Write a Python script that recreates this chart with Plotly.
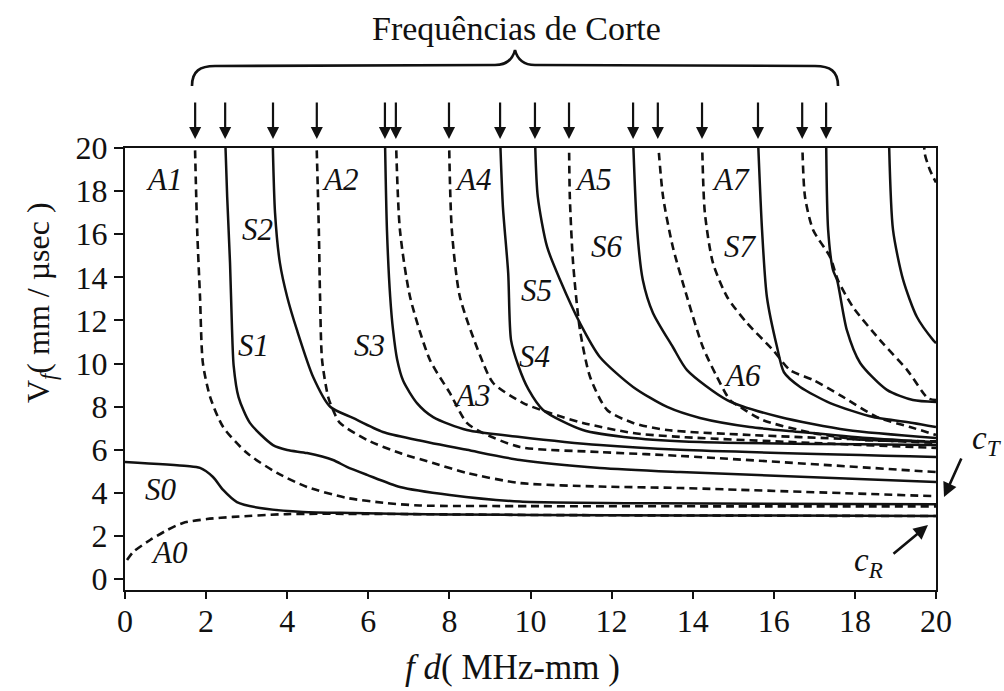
import plotly.graph_objects as go

# ---- Lamb-wave phase-velocity branches: fd (MHz-mm) vs Vf (mm/µs) ----
S0_fd = [0, 1.53, 1.85, 2.17, 2.42, 2.76, 3.33, 4.39, 5.62, 8, 12, 16, 20]
S0_v = [5.44, 5.25, 5.16, 4.74, 4.14, 3.58, 3.30, 3.12, 3.07, 3.0, 2.97, 2.95, 2.93]

A0_fd = [0.05, 0.20, 0.62, 1.04, 1.43, 2.02, 2.66, 4.0, 6, 10, 15, 20]
A0_v = [0.89, 1.26, 1.82, 2.28, 2.61, 2.79, 2.89, 3.02, 3.03, 2.98, 2.95, 2.93]

A1_fd = [1.72, 1.78, 1.85, 1.92, 2.10, 2.42, 3.01, 3.75, 4.49, 5.47, 6.46, 7.27, 10, 15, 20]
A1_v = [20.5, 16.2, 13.09, 10.03, 8.45, 7.06, 5.85, 4.93, 4.28, 3.77, 3.53, 3.42, 3.39, 3.38, 3.38]

S1_fd = [2.47, 2.52, 2.59, 2.64, 2.68, 2.80, 3.08, 3.65, 4.0, 4.49, 5.13, 5.47, 5.97, 6.78, 8.01, 9.74, 13, 20]
S1_v = [20.5, 17.73, 14.67, 11.56, 9.9, 8.45, 7.25, 6.22, 5.99, 5.85, 5.53, 5.21, 4.84, 4.28, 3.91, 3.60, 3.52, 3.48]

A2_fd = [4.72, 4.78, 4.81, 4.86, 5.01, 5.13, 5.30, 5.97, 6.78, 7.60, 8.43, 9.74, 11.71, 13.69, 20]
A2_v = [20.5, 16.2, 13.09, 10.17, 8.45, 7.85, 7.25, 6.46, 5.85, 5.39, 4.93, 4.46, 4.30, 4.23, 3.85]

S2_fd = [3.64, 3.70, 3.82, 4.0, 4.24, 4.64, 5.06, 5.62, 6.36, 7.2, 8.43, 9.74, 11.71, 13.69, 20]
S2_v = [20.5, 16.99, 14.67, 13.09, 11.56, 9.38, 8.0, 7.48, 6.83, 6.46, 6.0, 5.53, 5.16, 4.97, 4.51]

S3_fd = [6.41, 6.46, 6.54, 6.61, 6.71, 6.86, 7.20, 7.60, 8.43, 9.74, 11.71, 13.69, 20]
S3_v = [20.5, 16.2, 13.09, 11.56, 10.2, 9.2, 8.17, 7.52, 6.92, 6.60, 6.22, 6.0, 5.67]

A3_fd = [6.68, 6.78, 7.03, 7.52, 8.01, 8.43, 8.83, 9.74, 11.71, 13.69, 20]
A3_v = [20.5, 16.2, 13.09, 10.17, 8.64, 7.25, 6.78, 6.13, 5.90, 5.72, 4.97]

A4_fd = [7.99, 8.06, 8.26, 8.83, 9.08, 9.82, 10.48, 11.29, 12.53, 13.69, 20]
A4_v = [20.5, 16.2, 13.09, 10.03, 9.10, 8.17, 7.71, 7.25, 6.78, 6.60, 6.09]

S4_fd = [9.25, 9.32, 9.45, 9.52, 9.70, 9.95, 10.31, 11.29, 12.53, 14.18, 20]
S4_v = [20.5, 17.26, 14.20, 11.09, 9.9, 8.8, 7.85, 6.92, 6.55, 6.36, 6.22]

S5_fd = [10.11, 10.18, 10.41, 10.73, 11.22, 11.71, 12.53, 13.37, 14.18, 15.41, 16.65, 18.30, 20]
S5_v = [20.5, 17.73, 15.41, 13.88, 11.88, 10.31, 8.92, 7.99, 7.48, 7.06, 6.83, 6.55, 6.36]

A5_fd = [10.95, 10.97, 11.05, 11.22, 11.47, 11.89, 12.53, 13.37, 15.41, 17.88, 20]
A5_v = [20.4, 17.73, 14.67, 11.56, 9.38, 7.85, 7.25, 6.92, 6.69, 6.50, 6.32]

S6_fd = [12.53, 12.63, 12.77, 13.02, 13.51, 13.86, 14.85, 16.15, 17.81, 20]
S6_v = [20.4, 16.2, 13.88, 12.35, 10.77, 9.70, 8.31, 7.52, 6.92, 6.55]

A6_fd = [13.14, 13.27, 13.51, 13.86, 14.25, 14.60, 14.92, 15.17, 15.73, 16.97, 18.20, 20]
A6_v = [20.4, 17.73, 15.41, 13.09, 10.77, 9.38, 8.31, 7.99, 7.38, 6.78, 6.46, 6.40]

A7_fd = [14.23, 14.30, 14.50, 14.85, 15.34, 15.98, 16.40, 16.97, 17.63, 18.55, 19.36, 20]
A7_v = [20.4, 16.99, 14.67, 13.09, 11.88, 10.63, 9.70, 9.24, 8.54, 7.52, 7.06, 6.69]

S7_fd = [15.61, 15.71, 15.83, 16.08, 16.25, 16.65, 17.39, 18.45, 19.43, 20]
S7_v = [20.4, 16.2, 13.09, 10.77, 9.6, 8.92, 8.17, 7.52, 7.25, 7.06]

A8_fd = [16.70, 16.77, 16.97, 17.39, 17.58, 17.95, 18.62, 19.29, 19.80, 20]
A8_v = [20.4, 17.73, 16.2, 14.94, 13.88, 12.63, 11.09, 9.70, 8.40, 8.31]

S8_fd = [17.29, 17.34, 17.46, 17.56, 17.80, 18.13, 18.79, 19.43, 20]
S8_v = [20.4, 16.2, 14.34, 13.88, 11.56, 10.03, 8.78, 8.31, 8.22]

S9_fd = [18.84, 18.94, 19.19, 19.53, 19.93, 20]
S9_v = [20.4, 16.2, 13.88, 12.16, 11.09, 10.95]

A9_fd = [19.70, 19.73, 19.85, 20]
A9_v = [20.3, 19.68, 18.98, 18.40]

# cut-off frequencies marked by arrows above the frame
cutoff_fd = [1.73, 2.47, 3.65, 4.73, 6.41, 6.68, 7.99, 9.25, 10.11, 10.95,
             12.53, 13.14, 14.23, 15.61, 16.70, 17.29]

# mode labels: name, fd, Vf
mode_names = ["A1", "S2", "S1", "A2", "A4", "S3", "A5", "A7", "S6", "S7",
              "S5", "S4", "A3", "A6", "S0", "A0"]
mode_label_fd = [0.96, 3.26, 3.18, 5.30, 8.58, 6.04, 11.54, 14.94, 11.89, 15.17,
                 10.14, 10.11, 8.56, 15.24, 0.89, 1.09]
mode_label_v = [18.52, 16.24, 10.82, 18.56, 18.56, 10.82, 18.56, 18.56, 15.41, 15.41,
                13.41, 10.31, 8.50, 9.47, 4.18, 1.22]

symmetric = [(S0_fd, S0_v), (S1_fd, S1_v), (S2_fd, S2_v), (S3_fd, S3_v), (S4_fd, S4_v),
             (S5_fd, S5_v), (S6_fd, S6_v), (S7_fd, S7_v), (S8_fd, S8_v), (S9_fd, S9_v)]
antisymmetric = [(A0_fd, A0_v), (A1_fd, A1_v), (A2_fd, A2_v), (A3_fd, A3_v), (A4_fd, A4_v),
                 (A5_fd, A5_v), (A6_fd, A6_v), (A7_fd, A7_v), (A8_fd, A8_v), (A9_fd, A9_v)]

SERIF = "Liberation Serif, Times New Roman, serif"
INK = "#111111"

# figure geometry (pixels)
W, H = 1004, 691
ML, MR, MT, MB = 125, 68, 148, 101
PW, PH = W - ML - MR, H - MT - MB


def paper_x(px):
    return (px - ML) / PW


def paper_y(py):
    return (H - MB - py) / PH


fig = go.Figure()

for fd, v in symmetric:
    fig.add_trace(go.Scatter(x=fd, y=v, mode="lines",
                             line=dict(color=INK, width=2.5, shape="spline", smoothing=0.7),
                             hoverinfo="skip", showlegend=False))
for fd, v in antisymmetric:
    fig.add_trace(go.Scatter(x=fd, y=v, mode="lines",
                             line=dict(color=INK, width=2.6, dash="8px,5px",
                                       shape="spline", smoothing=0.7),
                             hoverinfo="skip", showlegend=False))


def label(px, py, text, size, **kw):
    return dict(x=paper_x(px), y=paper_y(py), xref="paper", yref="paper", text=text,
                showarrow=False, xanchor="center", yanchor="middle",
                font=dict(family=SERIF, size=size, color=INK), **kw)


annotations = []
for name, fx, fv in zip(mode_names, mode_label_fd, mode_label_v):
    annotations.append(dict(x=fx, y=fv, xref="x", yref="y", text="<i>%s</i>" % name,
                            showarrow=False, xanchor="center", yanchor="middle",
                            font=dict(family=SERIF, size=31, color=INK)))

# arrows at each cut-off frequency
for fc in cutoff_fd:
    annotations.append(dict(x=fc, y=paper_y(139), xref="x", yref="paper", text="",
                            showarrow=True, ax=0, ay=-38, arrowhead=2, arrowsize=1.1,
                            arrowwidth=2.2, arrowcolor=INK))

# title over the brace
annotations.append(label(516, 28, "Frequências de Corte", 34))

# axis titles
annotations.append(label(512, 667, "<i>f d</i>( MHz-mm )", 35))
annotations.append(label(40, 303, "V<sub><i>f</i></sub>( mm / µsec )", 32, textangle=-90))

# transverse and Rayleigh velocity markers
annotations.append(label(987, 440, "<i>c<sub>T</sub></i>", 33))
annotations.append(dict(x=paper_x(944), y=paper_y(497), xref="paper", yref="paper",
                        text="", showarrow=True, ax=18, ay=-40, arrowhead=2,
                        arrowsize=1.1, arrowwidth=2.6, arrowcolor=INK))
annotations.append(label(868, 562, "<i>c<sub>R</sub></i>", 33))
annotations.append(dict(x=paper_x(928), y=paper_y(525), xref="paper", yref="paper",
                        text="", showarrow=True, ax=-36, ay=30, arrowhead=2,
                        arrowsize=1.1, arrowwidth=2.6, arrowcolor=INK))

# curly brace grouping the cut-off arrows
pts = {
    "l0": (192, 86), "l1": (192, 71), "l2": (200, 66), "l3": (215, 66),
    "m0": (495, 65), "m1": (508, 65), "m2": (513, 58), "tip": (515, 50),
    "m3": (517, 58), "m4": (522, 65), "m5": (535, 65),
    "r0": (815, 66), "r1": (830, 66), "r2": (838, 71), "r3": (838, 86),
}


def P(key):
    px, py = pts[key]
    return "%.4f,%.4f" % (paper_x(px), paper_y(py))


brace = ("M %s C %s %s %s L %s C %s %s %s C %s %s %s L %s C %s %s %s" % (
    P("l0"), P("l1"), P("l2"), P("l3"), P("m0"), P("m1"), P("m2"), P("tip"),
    P("m3"), P("m4"), P("m5"), P("r0"), P("r1"), P("r2"), P("r3")))

fig.update_layout(
    width=W, height=H,
    margin=dict(l=ML, r=MR, t=MT, b=MB, pad=0),
    paper_bgcolor="white", plot_bgcolor="white",
    showlegend=False,
    annotations=annotations,
    shapes=[dict(type="path", path=brace, xref="paper", yref="paper",
                 line=dict(color=INK, width=2.6))],
    font=dict(family=SERIF, color=INK),
)

fig.update_xaxes(range=[0, 20], tickvals=list(range(0, 21, 2)),
                 showline=True, linecolor=INK, linewidth=2.2, mirror=True,
                 ticks="outside", ticklen=7, tickwidth=1.6, tickcolor=INK,
                 showgrid=False, zeroline=False,
                 tickfont=dict(family=SERIF, size=32, color=INK), ticklabelstandoff=-6)
fig.update_yaxes(range=[-0.5, 20], tickvals=list(range(0, 21, 2)),
                 showline=True, linecolor=INK, linewidth=2.2, mirror=True,
                 ticks="outside", ticklen=9, tickwidth=1.6, tickcolor=INK,
                 showgrid=False, zeroline=False,
                 tickfont=dict(family=SERIF, size=32, color=INK), ticklabelstandoff=0)

fig.write_html("out.html")
